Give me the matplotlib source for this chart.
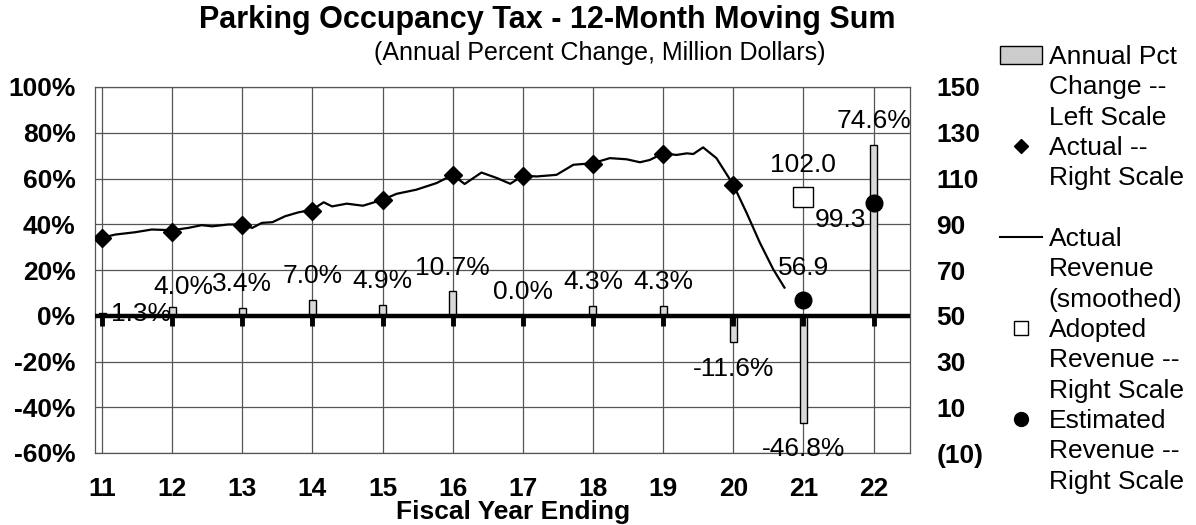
import numpy as np
import matplotlib.pyplot as plt
from matplotlib.patches import Patch
from matplotlib.lines import Line2D

plt.rcParams['font.family'] = ['Liberation Sans', 'DejaVu Sans']

years = [11, 12, 13, 14, 15, 16, 17, 18, 19, 20, 21, 22]
pct_change = [1.3, 4.0, 3.4, 7.0, 4.9, 10.7, 0.0, 4.3, 4.3, -11.6, -46.8, 74.6]

actual_years = [11, 12, 13, 14, 15, 16, 17, 18, 19, 20]
actual_rev = [83.8, 86.8, 89.8, 95.8, 100.5, 111.4, 111.3, 116.4, 120.8, 107.0]

# smoothed 12-month moving sum
line_x = [11.0, 11.19, 11.47, 11.71, 12.0, 12.23, 12.42, 12.57, 12.80, 13.0,
          13.14, 13.28, 13.43, 13.61, 13.80, 14.0, 14.16, 14.28, 14.49, 14.72,
          15.0, 15.20, 15.48, 15.77, 16.0, 16.17, 16.41, 16.63, 16.82, 17.0,
          17.20, 17.48, 17.72, 18.0, 18.24, 18.48, 18.67, 18.81, 19.0, 19.19,
          19.34, 19.43, 19.57, 19.76, 20.0, 20.19, 20.38, 20.57, 20.73]
line_val = [84.1, 85.5, 86.5, 87.7, 87.4, 88.4, 89.6, 89.1, 89.9, 89.9,
            88.4, 90.6, 90.9, 93.5, 95.2, 96.4, 99.6, 97.8, 99.0, 98.1,
            100.7, 103.3, 105.1, 108.0, 111.6, 107.6, 112.6, 110.2, 107.7, 111.2,
            110.9, 111.6, 116.0, 116.7, 118.9, 118.4, 117.1, 118.1, 121.0, 120.3,
            121.0, 120.7, 123.6, 118.9, 107.3, 95.0, 81.9, 70.3, 62.3]

adopted_years = [21]
adopted_rev = [102.0]
estimated_years = [21, 22]
estimated_rev = [56.9, 99.3]

left_ticks = [-60, -40, -20, 0, 20, 40, 60, 80, 100]
right_ticks = [-10, 10, 30, 50, 70, 90, 110, 130, 150]

fig = plt.figure(figsize=(11.96, 5.25), dpi=100)
ax = fig.add_axes([95 / 1196, 72 / 525, 815 / 1196, 366 / 525])

gridc = '#555555'
ax.bar(years, pct_change, width=0.1, color='#d9d9d9', edgecolor='black',
       linewidth=1, zorder=3)
ax.axhline(0, color='black', lw=3.2, zorder=4)
ax.plot(years, [0] * len(years), ls='', marker=3, ms=7, mew=3.5,
        color='black', zorder=4)

ax.set_xlim(10.9, 22.52)
ax.set_ylim(-60, 100)
ax.set_xticks(years)
ax.set_xticklabels([str(y) for y in years])
ax.set_yticks(left_ticks)
ax.set_yticklabels(['%d%%' % t for t in left_ticks])
ax.grid(True, color=gridc, lw=0.9, zorder=0)
ax.set_axisbelow(True)
for s in ax.spines.values():
    s.set_color(gridc)
    s.set_linewidth(0.9)
ax.tick_params(length=0, labelsize=19)
ax.tick_params(axis='y', pad=14)
ax.tick_params(axis='x', pad=17)
for lab in ax.get_xticklabels() + ax.get_yticklabels():
    lab.set_fontweight('bold')

# bar labels (first two are pushed aside the way the original does)
nudge = {0: (28, -18), 1: (8, -3)}
for i, (x, v) in enumerate(zip(years, pct_change)):
    dx, dy = nudge.get(i, (0, 0))
    off = 17 if v >= 0 else -19
    ax.annotate('%.1f%%' % v, (x, v), xytext=(dx, off + dy),
                textcoords='offset points', ha='center', va='center',
                fontsize=19, zorder=6)

ax2 = ax.twinx()
ax2.set_ylim(-10, 150)
ax2.set_yticks(right_ticks)
ax2.set_yticklabels(['(%d)' % -t if t < 0 else '%d' % t for t in right_ticks])
ax2.tick_params(length=0, labelsize=19, pad=19)
for lab in ax2.get_yticklabels():
    lab.set_fontweight('bold')
for s in ax2.spines.values():
    s.set_visible(False)

ax2.plot(line_x, line_val, color='black', lw=1.6, zorder=3)
ax2.plot(actual_years, actual_rev, ls='', marker='D', ms=9, color='black',
         zorder=4)
ax2.plot(adopted_years, adopted_rev, ls='', marker='s', ms=14, mfc='white',
         mec='black', mew=1, zorder=4)
ax2.plot(estimated_years, estimated_rev, ls='', marker='o', ms=12,
         color='black', zorder=4)

ax2.annotate('%.1f' % adopted_rev[0], (adopted_years[0], adopted_rev[0]),
             xytext=(0, 23), textcoords='offset points', ha='center',
             va='center', fontsize=19)
ax2.annotate('%.1f' % estimated_rev[0], (estimated_years[0], estimated_rev[0]),
             xytext=(0, 23), textcoords='offset points', ha='center',
             va='center', fontsize=19)
ax2.annotate('%.1f' % estimated_rev[1], (estimated_years[1], estimated_rev[1]),
             xytext=(-24, -12), textcoords='offset points', ha='center',
             va='center', fontsize=19)

fig.text(547 / 1196, 1 - 20 / 525, 'Parking Occupancy Tax - 12-Month Moving Sum',
         ha='center', va='center', fontsize=22, fontweight='bold')
fig.text(600 / 1196, 1 - 53 / 525, '(Annual Percent Change, Million Dollars)',
         ha='center', va='center', fontsize=18)
fig.text(513 / 1196, 1 - 512 / 525, 'Fiscal Year Ending',
         ha='center', va='center', fontsize=19, fontweight='bold')

# legend: one row per text line so each symbol sits on its first line
blank = Line2D([], [], ls='', marker='')
handles = [
    Patch(facecolor='#cccccc', edgecolor='black'), blank, blank,
    Line2D([], [], ls='', marker='D', ms=7, color='black'), blank, blank,
    Line2D([], [], color='black', lw=1.5), blank, blank,
    Line2D([], [], ls='', marker='s', ms=10, mfc='white', mec='black', mew=1), blank, blank,
    Line2D([], [], ls='', marker='o', ms=10, color='black'), blank, blank,
]
labels = ['Annual Pct', 'Change --', 'Left Scale',
          'Actual --', 'Right Scale', ' ',
          'Actual', 'Revenue', '(smoothed)',
          'Adopted', 'Revenue --', 'Right Scale',
          'Estimated', 'Revenue --', 'Right Scale']
fig.legend(handles, labels, loc='upper left', bbox_to_anchor=(1000 / 1196, 1 - 45 / 525),
           frameon=False, fontsize=19, handlelength=1.6, handletextpad=0.25,
           labelspacing=0.24, borderpad=0, borderaxespad=0)

fig.savefig('out.png', dpi=100)
